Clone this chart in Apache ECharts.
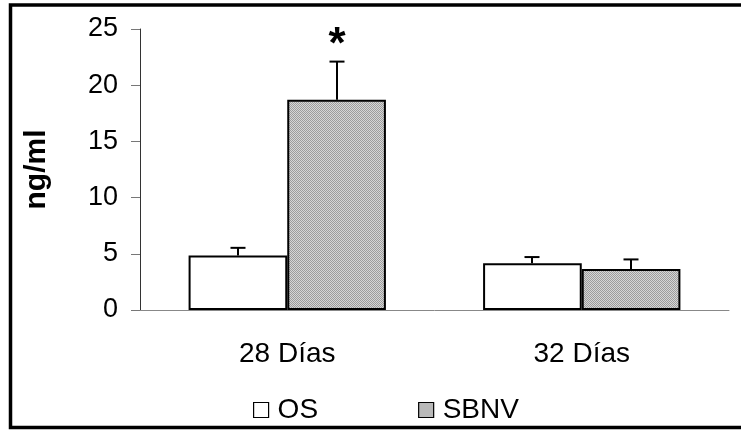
<!DOCTYPE html>
<html>
<head>
<meta charset="utf-8">
<script src="https://cdn.jsdelivr.net/npm/echarts@6/dist/echarts.min.js"></script>
<style>
  html, body { margin: 0; padding: 0; background: #fff; }
  #chart { width: 741px; height: 432px; }
</style>
</head>
<body>
<div id="chart"></div>
<script>
// Hormone concentration (ng/ml), mean with upper standard error
const categories = ['28 Días', '32 Días'];
const seriesNames = ['OS', 'SBNV'];
const osMean = [4.85, 4.15];
const osError = [0.68, 0.56];
const sbnvMean = [18.7, 3.65];
const sbnvError = [3.4, 0.85];
const sbnvMarks = ['*', ''];
const yTicks = [0, 5, 10, 15, 20, 25];

const FONT = '"Liberation Sans", Arial, sans-serif';
const CATEGORY_GAP = 0.33;

// fine grey checker fill for the second group
function checkerPattern() {
  const c = document.createElement('canvas');
  c.width = 2; c.height = 2;
  const g = c.getContext('2d');
  g.fillStyle = '#d6d6d6';
  g.fillRect(0, 0, 2, 2);
  g.fillStyle = '#9c9c9c';
  g.fillRect(0, 0, 1, 1);
  g.fillRect(1, 1, 1, 1);
  return c;
}
const greyFill = { image: checkerPattern(), repeat: 'repeat' };

// upper error whisker (and optional significance mark) for one bar slot
function errorSeries(means, errs, slot, marks) {
  return {
    type: 'custom',
    silent: true,
    z: 5,
    data: means.map((m, i) => [i, m, m + errs[i]]),
    renderItem(params, api) {
      const i = api.value(0);
      const cw = api.size([1, 0])[0];
      const bw = cw * (1 - CATEGORY_GAP) / 2;
      const dx = (slot === 0 ? -0.5 : 0.5) * bw;
      const base = api.coord([i, api.value(1)]);
      const top = api.coord([i, api.value(2)]);
      const x = Math.round(base[0] + dx);
      const children = [
        { type: 'line', shape: { x1: x, y1: base[1], x2: x, y2: top[1] },
          style: { stroke: '#000', lineWidth: 2 } },
        { type: 'line', shape: { x1: x - 7.5, y1: top[1], x2: x + 7.5, y2: top[1] },
          style: { stroke: '#000', lineWidth: 2 } }
      ];
      const mark = marks ? marks[params.dataIndex] : '';
      if (mark) {
        children.push({
          type: 'text',
          style: {
            text: mark, x: x, y: top[1] + 6,
            align: 'center', verticalAlign: 'bottom',
            font: 'bold 44px ' + FONT, fill: '#000'
          }
        });
      }
      return { type: 'group', children };
    }
  };
}

const chart = echarts.init(document.getElementById('chart'), null, { renderer: 'canvas' });

chart.setOption({
  animation: false,
  backgroundColor: '#fff',
  textStyle: { fontFamily: FONT },
  grid: { left: 140, right: 12, top: 29, bottom: 122 },
  graphic: [{
    type: 'rect', silent: true, z: 100,
    shape: { x: 10.5, y: 5, width: 760, height: 422.5 },
    style: { fill: null, stroke: '#000', lineWidth: 3.5 }
  }],
  legend: {
    data: seriesNames,
    left: 248,
    top: 391,
    icon: 'rect',
    itemWidth: 15,
    itemHeight: 15,
    itemGap: 100,
    textStyle: { fontSize: 28, color: '#000', fontFamily: FONT, padding: [0, 0, 0, 4] },
    itemStyle: { borderColor: '#000', borderWidth: 1.2 }
  },
  xAxis: {
    type: 'category',
    data: categories,
    axisLine: { lineStyle: { color: '#888', width: 1 } },
    axisTick: { length: 9, lineStyle: { color: '#777', width: 1 } },
    axisLabel: { fontSize: 28, color: '#000', margin: 30, fontFamily: FONT }
  },
  yAxis: {
    type: 'value',
    min: yTicks[0],
    max: yTicks[yTicks.length - 1],
    interval: yTicks[1] - yTicks[0],
    name: 'ng/ml',
    nameLocation: 'middle',
    nameRotate: 90,
    nameGap: 88,
    nameTextStyle: { fontSize: 30, fontWeight: 'bold', color: '#000', fontFamily: FONT },
    splitLine: { show: false },
    axisLine: { show: true, lineStyle: { color: '#333', width: 1 } },
    axisTick: { show: true, length: 9, lineStyle: { color: '#777', width: 1 } },
    axisLabel: { fontSize: 27, color: '#000', margin: 22, fontFamily: FONT }
  },
  series: [
    {
      name: seriesNames[0],
      type: 'bar',
      data: osMean,
      barGap: '0%',
      barCategoryGap: (CATEGORY_GAP * 100) + '%',
      itemStyle: { color: '#fff', borderColor: '#000', borderWidth: 2 },
      z: 3
    },
    {
      name: seriesNames[1],
      type: 'bar',
      data: sbnvMean,
      barGap: '0%',
      barCategoryGap: (CATEGORY_GAP * 100) + '%',
      itemStyle: { color: greyFill, borderColor: '#000', borderWidth: 2 },
      z: 3
    },
    errorSeries(osMean, osError, 0, null),
    errorSeries(sbnvMean, sbnvError, 1, sbnvMarks)
  ]
});
</script>
</body>
</html>
